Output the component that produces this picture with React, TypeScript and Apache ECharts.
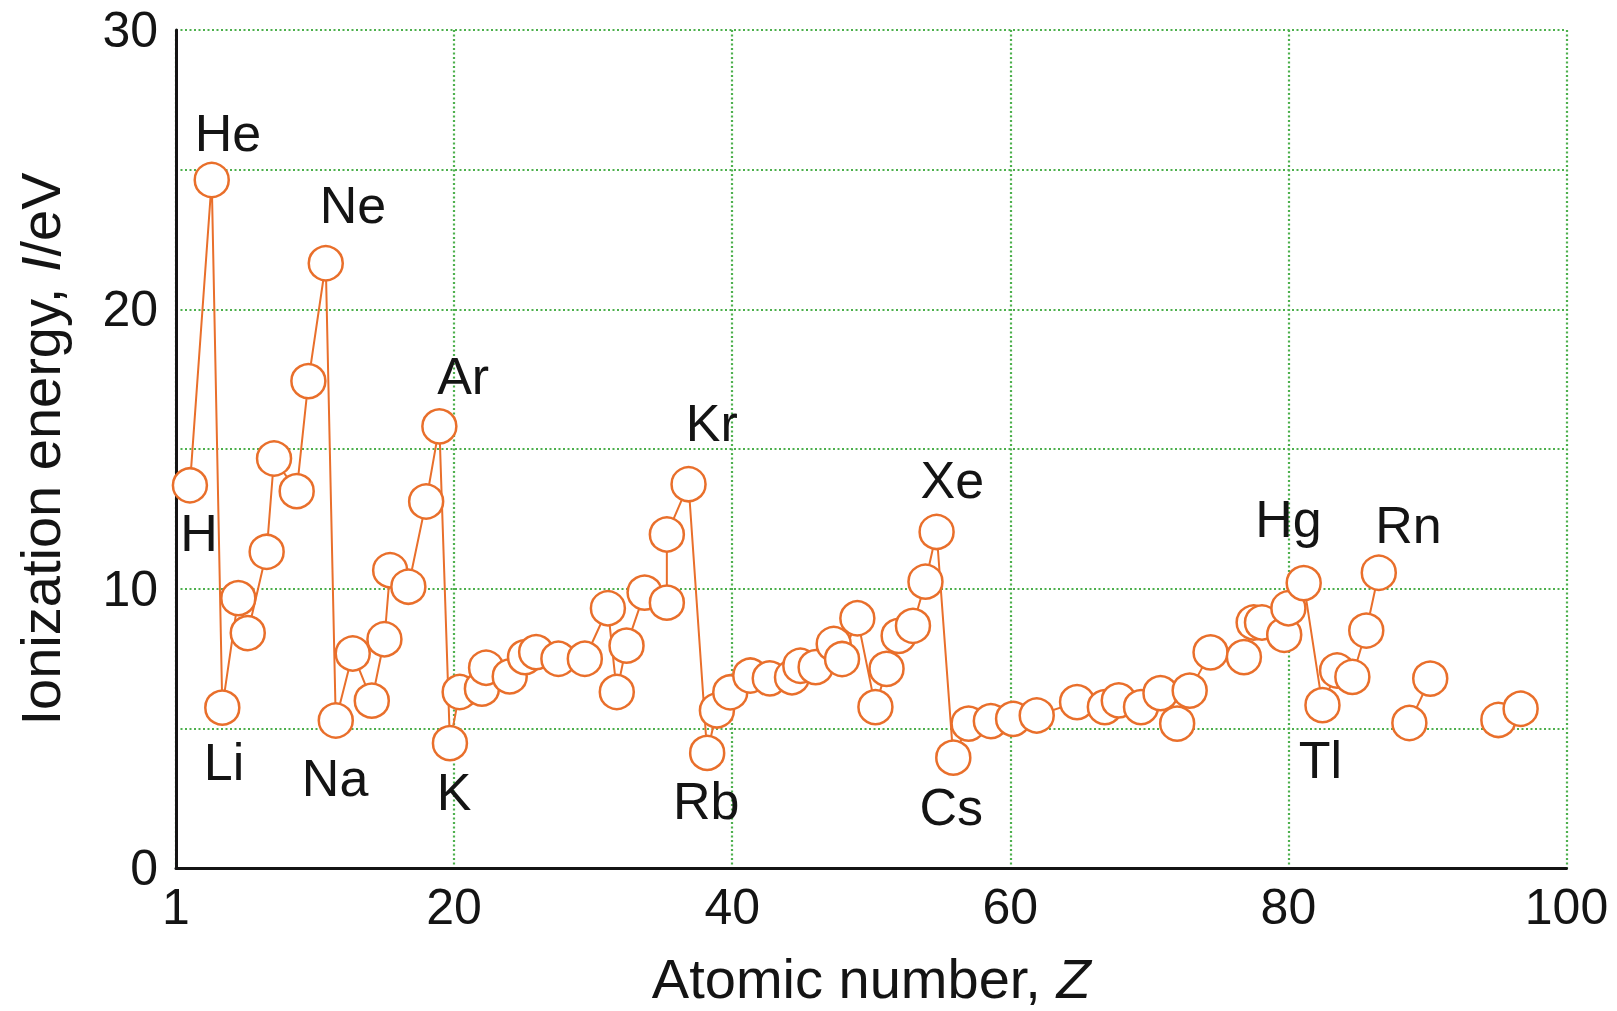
import React, { useEffect, useRef } from 'react';
import * as echarts from 'echarts';

// Positions of the plotted points along the atomic-number axis (as drawn) and their ionization energies (eV)
const zPos: number[] = [
  1.0, 2.57, 3.33, 4.48, 5.16, 6.52, 7.05, 8.68, 9.52, 10.77,
  11.49, 12.71, 14.08, 14.99, 15.4, 16.71, 17.99, 18.94, 19.7, 20.4,
  22.0, 22.3, 24.0, 25.1, 25.9, 27.5, 29.4, 31.06, 31.7, 32.4,
  33.7, 35.3, 35.3, 36.86, 38.2, 38.9, 39.86, 41.3, 42.7, 44.3,
  44.9, 46.0, 47.3, 47.9, 49.0, 50.3, 51.1, 51.97, 53.0, 53.9,
  54.7, 55.9, 57.0, 58.6, 60.2, 61.9, 64.8, 66.8, 67.8, 69.4,
  70.8, 72.0, 72.9, 74.4, 76.8, 77.5, 78.1, 79.7, 80.0, 81.1,
  82.45, 83.5, 84.6, 85.6, 86.5, 87.6, 88.7, 90.2, 92.6, 95.1,
  96.7,
];
const energy: (number | null)[] = [
  13.7, 24.63, 5.74, 9.66, 8.41, 11.32, 14.66, 13.49, 17.43, 21.65,
  5.28, 7.68, 5.99, 8.19, 10.66, 10.07, 13.12, 15.81, 4.47, 6.3,
  6.42, 7.17, 6.86, 7.55, 7.73, 7.49, 7.49, 9.3, 6.3, 7.96,
  9.86, 9.5, 11.94, 13.74, 4.12, 5.64, 6.29, 6.89, 6.79, 6.83,
  7.24, 7.19, 8.02, 7.48, 8.94, 5.76, 7.13, 8.31, 8.67, 10.25,
  12.03, 3.95, 5.17, 5.26, 5.34, 5.46, 5.94, 5.76, 6.0, 5.76,
  6.26, 5.17, 6.35, 7.72, 7.55, 8.79, 8.79, 8.35, 9.3, 10.2,
  5.83, 7.07, 6.84, 8.5, 10.57, null, 5.19, 6.78, null, 5.3,
  5.7,
];

// Element labels and where they sit in data coordinates
const elementNames: string[] = ['He', 'Ne', 'Ar', 'Kr', 'Xe', 'Hg', 'Rn', 'H', 'Li', 'Na', 'K', 'Rb', 'Cs', 'Tl'];
const labelZ: number[] = [3.74, 12.73, 20.65, 38.53, 55.83, 80.0, 88.63, 1.65, 3.45, 11.44, 20.0, 38.13, 55.76, 82.3];
const labelEnergy: number[] = [26.33, 23.74, 17.6, 15.93, 13.9, 12.5, 12.29, 12.0, 3.79, 3.23, 2.73, 2.41, 2.19, 3.87];

// Axis ticks
const xTicks: number[] = [0, 20, 40, 60, 80, 100];
const xTickLabels: string[] = ['1', '20', '40', '60', '80', '100'];
const yLabelled: number[] = [0, 10, 20, 30];

const ORANGE = '#E96F2B';
const GREEN = '#4DB04D';
const INK = '#141414';
const FONT = '"Liberation Sans", Arial, Helvetica, sans-serif';

export default function App() {
  const ref = useRef<HTMLDivElement>(null);

  useEffect(() => {
    if (!ref.current) return;
    const chart = echarts.init(ref.current, null, { renderer: 'svg' });

    const lineData = zPos.map((z, i) => (energy[i] === null ? [z, '-'] : [z, energy[i]]));
    const labelData = elementNames.map((n, i) => ({ name: n, value: [labelZ[i], labelEnergy[i]] }));

    chart.setOption({
      animation: false,
      backgroundColor: '#ffffff',
      grid: { left: 176, right: 50.5, top: 30, bottom: 140.5, containLabel: false },
      xAxis: {
        type: 'value',
        min: 0,
        max: 100,
        interval: 20,
        name: 'Atomic number, {i|Z}',
        nameLocation: 'middle',
        nameGap: 82,
        nameTextStyle: {
          fontFamily: FONT,
          fontSize: 56,
          color: INK,
          rich: { i: { fontFamily: FONT, fontSize: 56, fontStyle: 'italic', color: INK } },
        },
        axisLine: { show: true, onZero: false, lineStyle: { color: INK, width: 3 } },
        axisTick: { show: false },
        axisLabel: {
          margin: 14,
          fontFamily: FONT,
          fontSize: 50,
          color: INK,
          formatter: (v: number) => {
            const k = xTicks.indexOf(v);
            return k >= 0 ? xTickLabels[k] : '';
          },
        },
        splitLine: { show: true, lineStyle: { color: GREEN, width: 2.2, type: [2, 2.5] } },
      },
      yAxis: {
        type: 'value',
        min: 0,
        max: 30,
        interval: 5,
        name: 'Ionization energy, {i|I}/eV',
        nameLocation: 'middle',
        nameGap: 108,
        nameTextStyle: {
          fontFamily: FONT,
          fontSize: 56,
          color: INK,
          rich: { i: { fontFamily: FONT, fontSize: 56, fontStyle: 'italic', color: INK } },
        },
        axisLine: { show: true, onZero: false, lineStyle: { color: INK, width: 3 } },
        axisTick: { show: false },
        axisLabel: {
          margin: 18,
          fontFamily: FONT,
          fontSize: 50,
          color: INK,
          formatter: (v: number) => (yLabelled.indexOf(v) >= 0 ? String(v) : ''),
        },
        splitLine: { show: true, lineStyle: { color: GREEN, width: 2.2, type: [2, 2.5] } },
      },
      series: [
        {
          type: 'line',
          data: lineData,
          connectNulls: false,
          symbol: 'circle',
          symbolSize: 34,
          showSymbol: true,
          silent: true,
          lineStyle: { color: ORANGE, width: 2 },
          itemStyle: { color: '#ffffff', borderColor: ORANGE, borderWidth: 2.5 },
          emphasis: { disabled: true },
          z: 3,
        },
        {
          type: 'scatter',
          data: labelData,
          symbolSize: 1,
          silent: true,
          itemStyle: { color: '#ffffff', opacity: 1 },
          label: {
            show: true,
            position: 'inside',
            formatter: (p: any) => p.name,
            fontFamily: FONT,
            fontSize: 52,
            color: INK,
            opacity: 1,
            textBorderWidth: 0,
            align: 'center',
            verticalAlign: 'middle',
          },
          emphasis: { disabled: true },
          z: 4,
        },
      ],
    });

    return () => chart.dispose();
  }, []);

  return (
    <div
      ref={ref}
      style={{ position: 'absolute', left: 0, top: 0, width: 1617, height: 1011, background: '#ffffff' }}
    />
  );
}
